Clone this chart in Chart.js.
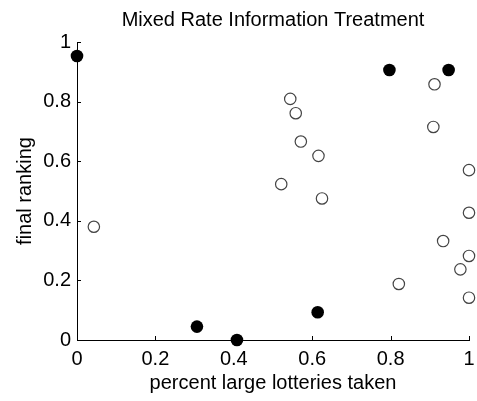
<!DOCTYPE html>
<html>
<head>
<meta charset="utf-8">
<script src="https://cdn.jsdelivr.net/npm/chart.js@4.4.1/dist/chart.umd.min.js"></script>
<style>
  html, body { margin: 0; padding: 0; background: #fff; }
  #wrap { width: 477px; height: 401px; }
</style>
</head>
<body>
<div id="wrap"><canvas id="chart"></canvas></div>
<script>
// data
var titleText = "Mixed Rate Information Treatment";
var xLabel = "percent large lotteries taken";
var yLabel = "final ranking";

// filled markers
var filledX = [0.0, 0.797, 0.948, 0.306, 0.408, 0.614];
var filledY = [0.953, 0.906, 0.906, 0.045, 0.0, 0.093];

// open markers
var openX = [0.544, 0.558, 0.912, 0.909, 0.571, 0.616, 0.521, 0.625, 0.043, 1.0, 1.0, 0.934, 1.0, 0.978, 0.821, 1.0];
var openY = [0.809, 0.761, 0.858, 0.715, 0.666, 0.618, 0.523, 0.475, 0.380, 0.570, 0.427, 0.332, 0.282, 0.237, 0.188, 0.142];

var tickValues = [0, 0.2, 0.4, 0.6, 0.8, 1];

function toPoints(xs, ys) {
  var pts = [];
  for (var i = 0; i < xs.length; i++) {
    pts.push({ x: xs[i], y: ys[i] });
  }
  return pts;
}

function tickText(v) {
  return String(Math.round(v * 10) / 10);
}

// matlab style ticks pointing into the plot
var innerTicks = {
  id: 'innerTicks',
  afterDraw: function(chart) {
    var ctx = chart.ctx;
    var xs = chart.scales.x, ys = chart.scales.y;
    var area = chart.chartArea;
    ctx.save();
    ctx.strokeStyle = '#000';
    ctx.lineWidth = 1;
    ctx.beginPath();
    tickValues.forEach(function(v) {
      var px = Math.round(xs.getPixelForValue(v)) + 0.5;
      ctx.moveTo(px, area.bottom);
      ctx.lineTo(px, area.bottom - 4);
      var py = Math.round(ys.getPixelForValue(v)) + 0.5;
      ctx.moveTo(area.left, py);
      ctx.lineTo(area.left + 4, py);
    });
    ctx.stroke();
    ctx.restore();
  }
};

var font = { family: "'Liberation Sans', Arial, sans-serif", size: 20 };

var ctx = document.getElementById('chart').getContext('2d');
var chart = new Chart(ctx, {
  type: 'scatter',
  data: {
    datasets: [{
      data: toPoints(openX, openY),
      pointRadius: 5.7,
      pointHoverRadius: 5.7,
      pointBackgroundColor: '#fff',
      pointBorderColor: '#444',
      pointBorderWidth: 1.2,
      clip: false
    }, {
      data: toPoints(filledX, filledY),
      pointRadius: 6.3,
      pointHoverRadius: 6.3,
      pointBackgroundColor: '#000',
      pointBorderColor: '#000',
      pointBorderWidth: 0,
      clip: false
    }]
  },
  options: {
    responsive: true,
    maintainAspectRatio: false,
    animation: false,
    layout: { padding: { left: 0, right: 8, top: 0, bottom: 0 } },
    plugins: {
      legend: { display: false },
      tooltip: { enabled: false }
    },
    scales: {
      x: {
        type: 'linear',
        min: 0,
        max: 1,
        grid: { display: false, drawTicks: false },
        border: { display: true, color: '#000', width: 1 },
        ticks: { stepSize: 0.2, color: '#000', font: font, padding: 7, maxRotation: 0, callback: tickText },
        title: { display: true, text: xLabel, color: '#000', font: font, padding: { top: 0, bottom: 6 } },
        afterFit: function(scale) {
          scale.height = 61;
          scale.paddingLeft = 0;
          scale.paddingRight = 0;
        }
      },
      // top axis only carries the title so it centres over the plot
      xTop: {
        type: 'linear',
        position: 'top',
        min: 0,
        max: 1,
        grid: { display: false, drawTicks: false },
        border: { display: false },
        ticks: { display: false },
        title: { display: true, text: titleText, color: '#000', font: font, padding: { top: 8, bottom: 0 } },
        afterFit: function(scale) {
          scale.height = 42;
          scale.paddingLeft = 0;
          scale.paddingRight = 0;
        }
      },
      y: {
        type: 'linear',
        min: 0,
        max: 1,
        grid: { display: false, drawTicks: false },
        border: { display: true, color: '#000', width: 1 },
        ticks: { stepSize: 0.2, color: '#000', font: font, padding: 6, callback: tickText },
        title: { display: true, text: yLabel, color: '#000', font: font, padding: { top: 13, bottom: 0 } },
        afterFit: function(scale) { scale.width = 77; }
      }
    }
  },
  plugins: [innerTicks]
});
</script>
</body>
</html>
